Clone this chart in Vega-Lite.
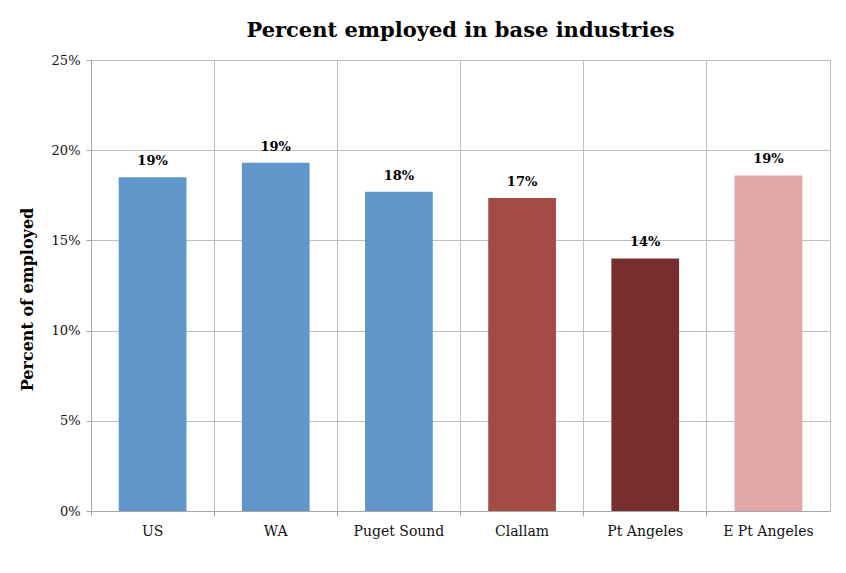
{
  "$schema": "https://vega.github.io/schema/vega-lite/v6.json",
  "width": 739,
  "height": 451,
  "autosize": {"type": "none"},
  "padding": {"left": 91, "top": 60, "right": 16, "bottom": 62},
  "background": "white",
  "title": {
    "text": "Percent employed in base industries",
    "font": "DejaVu Serif",
    "fontSize": 21,
    "fontWeight": "bold",
    "color": "black",
    "anchor": "middle",
    "offset": 13
  },
  "config": {
    "view": {"stroke": "#BFBFBF", "strokeWidth": 1},
    "axis": {"labelFont": "DejaVu Serif", "titleFont": "DejaVu Serif"}
  },
  "data": {
    "values": [
      {"region": "US", "pct": 0.185},
      {"region": "WA", "pct": 0.193},
      {"region": "Puget Sound", "pct": 0.177},
      {"region": "Clallam", "pct": 0.1735},
      {"region": "Pt Angeles", "pct": 0.140},
      {"region": "E Pt Angeles", "pct": 0.186}
    ]
  },
  "encoding": {
    "x": {
      "field": "region",
      "type": "nominal",
      "sort": null,
      "scale": {"paddingInner": 0, "paddingOuter": 0},
      "axis": {
        "title": null,
        "labelAngle": 0,
        "labelFontSize": 14,
        "labelColor": "#111",
        "labelPadding": 8,
        "bandPosition": 0,
        "grid": true,
        "gridColor": "#BFBFBF",
        "domainColor": "#A6A6A6",
        "tickColor": "#A6A6A6",
        "tickSize": 5
      }
    },
    "y": {
      "field": "pct",
      "type": "quantitative",
      "scale": {"domain": [0, 0.25], "nice": false},
      "axis": {
        "title": "Percent of employed",
        "titleFontSize": 16,
        "titleFontWeight": "bold",
        "titleColor": "black",
        "titlePadding": 16,
        "titleY": 239,
        "format": ".0%",
        "values": [0, 0.05, 0.1, 0.15, 0.2, 0.25],
        "labelFontSize": 13,
        "labelColor": "#111",
        "labelPadding": 6,
        "grid": true,
        "gridColor": "#BFBFBF",
        "domainColor": "#A6A6A6",
        "tickColor": "#A6A6A6",
        "tickSize": 5
      }
    }
  },
  "layer": [
    {
      "mark": {"type": "bar", "width": {"band": 0.55}},
      "encoding": {
        "color": {
          "field": "region",
          "type": "nominal",
          "scale": {
            "domain": ["US", "WA", "Puget Sound", "Clallam", "Pt Angeles", "E Pt Angeles"],
            "range": ["#6096CA", "#6096CA", "#6096CA", "#A54B45", "#772F2E", "#E1A6A5"]
          },
          "legend": null
        }
      }
    },
    {
      "mark": {"type": "text", "dy": -16, "font": "DejaVu Serif", "fontSize": 13, "fontWeight": "bold", "color": "black"},
      "encoding": {
        "text": {"field": "pct", "type": "quantitative", "format": ".0%"}
      }
    }
  ]
}
